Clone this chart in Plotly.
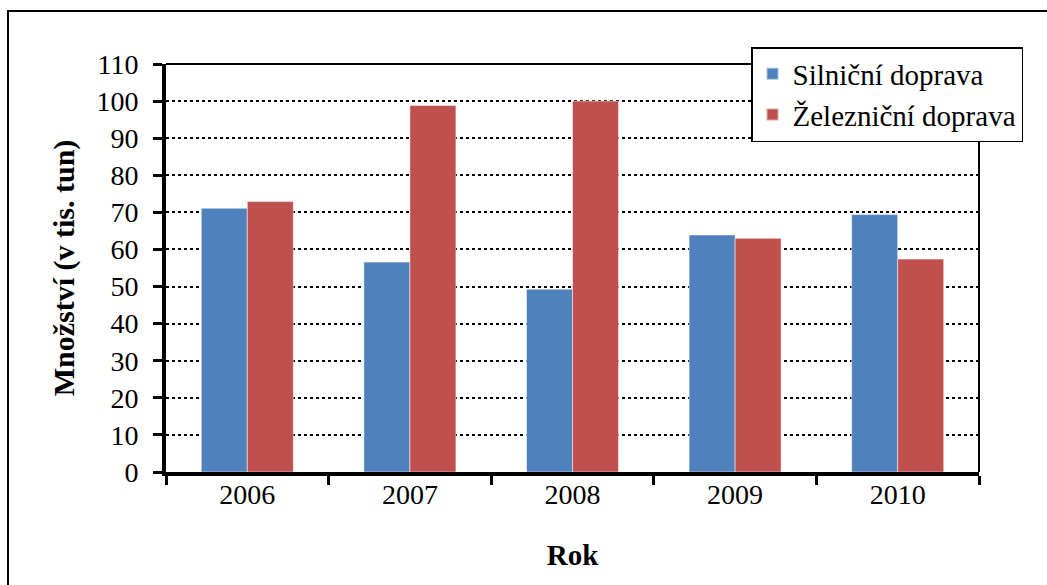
import plotly.graph_objects as go

years = ["2006", "2007", "2008", "2009", "2010"]
silnicni = [71.1, 56.6, 49.3, 63.9, 69.4]
zeleznicni = [72.9, 98.8, 100.0, 63.0, 57.4]
series_names = ["Silniční doprava", "Železniční doprava"]
colors = ["#4F81BD", "#C0504D"]
y_ticks = list(range(0, 111, 10))

W, H = 1047, 585
L, R, T, B = 166, 68, 64, 113
pw, ph = W - L - R, H - T - B

def px_x(x):
    return (x - L) / pw

def px_y(y):
    return (H - B - y) / ph

font = "Liberation Serif"

fig = go.Figure()
for name, vals, col in zip(series_names, [silnicni, zeleznicni], colors):
    fig.add_trace(go.Bar(
        x=years, y=vals, name=name,
        marker=dict(color=col, line=dict(color="rgba(255,255,255,0.5)", width=1)),
    ))

fig.update_layout(
    width=W, height=H,
    margin=dict(l=L, r=R, t=T, b=B, pad=0),
    paper_bgcolor="white", plot_bgcolor="white",
    barmode="group", bargap=0.434, bargroupgap=0,
    font=dict(family=font, size=28, color="black"),
    showlegend=True,
    legend=dict(
        x=px_x(751), y=px_y(47), xanchor="left", yanchor="top",
        bgcolor="white", bordercolor="black", borderwidth=1.5,
        font=dict(family=font, size=29, color="black"),
        itemsizing="constant", tracegroupgap=0,
    ),
    xaxis=dict(
        type="category", showline=True, linecolor="black", linewidth=4,
        ticks="outside", tickson="boundaries", ticklen=9, tickwidth=3, tickcolor="black",
        ticklabelstandoff=-6,
        showgrid=False, tickfont=dict(family=font, size=28),
        title=dict(text="<b>Rok</b>", font=dict(family=font, size=29), standoff=37),
    ),
    yaxis=dict(
        range=[0, 110], tickvals=y_ticks, showline=True, linecolor="black", linewidth=4,
        ticks="outside", ticklen=9, tickwidth=3, tickcolor="black",
        ticklabelstandoff=9,
        showgrid=True, gridcolor="black", gridwidth=1.5, griddash="dot",
        zeroline=False, tickfont=dict(family=font, size=28),
        title=dict(text="<b>Množství (v tis. tun)</b>", font=dict(family=font, size=30), standoff=14),
    ),
    shapes=[
        dict(type="line", xref="paper", yref="paper", x0=0, x1=1, y0=1, y1=1,
             line=dict(color="black", width=2)),
        dict(type="line", xref="paper", yref="paper", x0=1, x1=1, y0=0, y1=1,
             line=dict(color="black", width=2)),
        dict(type="rect", xref="paper", yref="paper",
             x0=px_x(8), x1=px_x(1060), y0=px_y(600), y1=px_y(11),
             line=dict(color="black", width=2), fillcolor="rgba(0,0,0,0)", layer="below"),
    ],
)

fig.write_html("out.html", config={"displayModeBar": False},
               post_script="document.body.style.margin='0';")
